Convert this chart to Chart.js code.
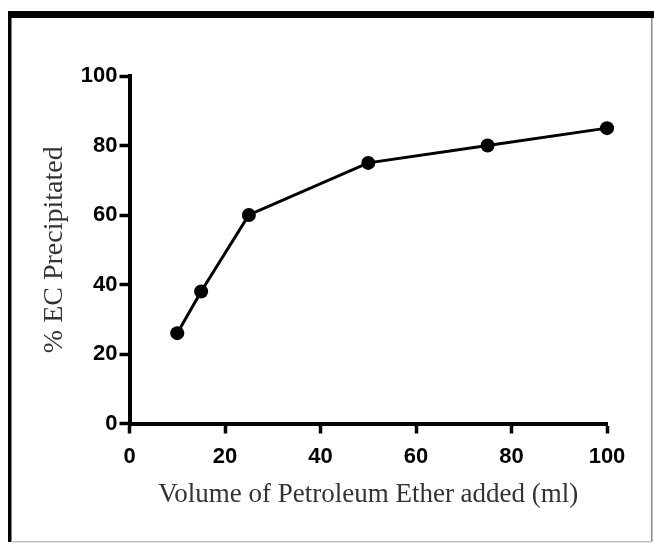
<!DOCTYPE html>
<html>
<head>
<meta charset="utf-8">
<script src="https://cdn.jsdelivr.net/npm/chart.js@4"></script>
<style>
  html, body { margin: 0; padding: 0; background: #fff; }
  #wrap { position: relative; width: 654px; height: 543px; }
</style>
</head>
<body>
<div id="wrap"><canvas id="c" width="654" height="543"></canvas></div>
<script>
const volumes = [10, 15, 25, 50, 75, 100];
const precipitated = [26, 38, 60, 75, 80, 85];
const xTicks = [0, 20, 40, 60, 80, 100];
const yTicks = [0, 20, 40, 60, 80, 100];
const xTitle = 'Volume of Petroleum Ether added (ml)';
const yTitle = '% EC Precipitated';

const framePlugin = {
  id: 'frame',
  beforeDraw(chart) {
    const ctx = chart.ctx;
    ctx.save();
    ctx.fillStyle = '#fff';
    ctx.fillRect(0, 0, chart.width, chart.height);
    ctx.fillStyle = '#000';
    ctx.fillRect(8, 11, 646, 7);
    ctx.fillRect(8, 11, 3.5, 531);
    ctx.fillStyle = '#8a8a8a';
    ctx.fillRect(651, 18, 1.5, 524);
    ctx.fillStyle = '#c4c4c4';
    ctx.fillRect(11, 541, 641, 1.5);
    ctx.restore();
  }
};

const tickFont = { family: '"Liberation Sans", Arial, sans-serif', size: 22, weight: 'bold', lineHeight: 1 };
const titleFont = { family: '"Liberation Serif", "Times New Roman", serif', size: 27, lineHeight: 1 };

new Chart(document.getElementById('c'), {
  type: 'line',
  data: {
    datasets: [{
      data: volumes.map((v, i) => ({ x: v, y: precipitated[i] })),
      borderColor: '#000',
      backgroundColor: '#000',
      borderWidth: 3,
      pointRadius: 7,
      pointBorderWidth: 0,
      pointBackgroundColor: '#000',
      tension: 0,
      fill: false,
      clip: false
    }]
  },
  options: {
    responsive: false,
    animation: false,
    devicePixelRatio: 1,
    layout: { padding: { left: 0, top: 76, right: 47, bottom: 0 } },
    plugins: { legend: { display: false }, tooltip: { enabled: false } },
    scales: {
      x: {
        type: 'linear',
        min: 0, max: 100,
        afterBuildTicks(s) { s.ticks = xTicks.map(v => ({ value: v })); },
        afterFit(s) { s.height = 543 - 423.5; },
        border: { display: true, width: 4, color: '#000' },
        grid: { drawOnChartArea: false, drawTicks: true, tickLength: 10, tickWidth: 3.5, tickColor: '#000' },
        ticks: { font: tickFont, color: '#000', padding: 12, maxRotation: 0 },
        title: { display: true, text: xTitle, font: titleFont, color: '#333', padding: { top: 0, bottom: 35 } }
      },
      y: {
        type: 'linear',
        min: 0, max: 100,
        afterBuildTicks(s) { s.ticks = yTicks.map(v => ({ value: v })); },
        afterFit(s) { s.width = 129.5; },
        border: { display: true, width: 4, color: '#000' },
        grid: { drawOnChartArea: false, drawTicks: true, tickLength: 10, tickWidth: 3.5, tickColor: '#000' },
        ticks: { font: tickFont, color: '#000', padding: 2 },
        title: { display: true, text: yTitle, font: { family: titleFont.family, size: 28, lineHeight: 1 }, color: '#333', padding: { top: 41, bottom: 0 } }
      }
    }
  },
  plugins: [framePlugin]
});
</script>
</body>
</html>
